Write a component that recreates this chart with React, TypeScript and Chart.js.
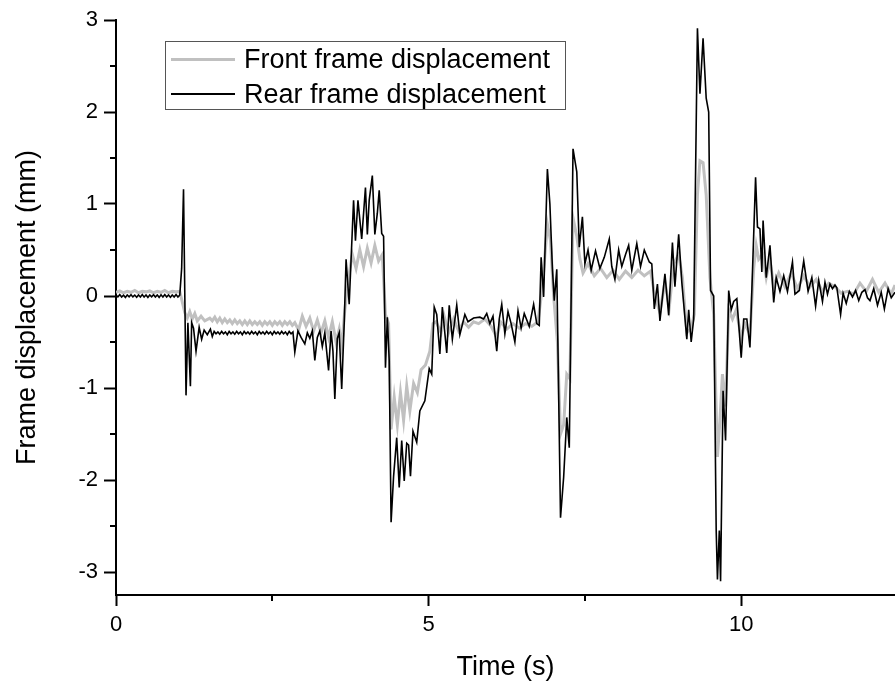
import React, { useEffect, useRef } from "react";
import { Chart, registerables } from "chart.js";

Chart.register(...registerables);

// Time (s) and values (mm)
const rearTime = [
  0.0, 0.03, 0.06, 0.09, 0.12, 0.15, 0.18, 0.21, 0.24, 0.27, 0.3, 0.33, 0.36, 0.39, 0.42, 0.45, 0.48, 0.51, 0.54, 0.57,
  0.6, 0.63, 0.66, 0.69, 0.72, 0.75, 0.78, 0.81, 0.84, 0.87, 0.9, 0.93, 0.96, 0.99, 1.02,
  1.05, 1.08, 1.12, 1.15, 1.19, 1.21, 1.24, 1.28, 1.33, 1.37, 1.41, 1.46,
  1.51, 1.54, 1.57, 1.6, 1.63, 1.66, 1.69, 1.72, 1.75, 1.78, 1.81, 1.84, 1.87, 1.9, 1.93, 1.96, 1.99, 2.02, 2.05, 2.08,
  2.11, 2.14, 2.17, 2.2, 2.23, 2.26, 2.29, 2.32, 2.35, 2.38, 2.41, 2.44, 2.47, 2.5, 2.53, 2.56, 2.59, 2.62, 2.65, 2.68,
  2.71, 2.74, 2.77, 2.8, 2.83,
  2.86, 2.91, 2.96, 3.02, 3.06, 3.1, 3.14, 3.18, 3.22, 3.26, 3.3, 3.34, 3.4, 3.44, 3.47, 3.5,
  3.54, 3.57, 3.61, 3.65, 3.68, 3.73, 3.8, 3.83, 3.87, 3.93, 3.99, 4.02, 4.05, 4.1, 4.14, 4.18, 4.21, 4.25, 4.28, 4.31,
  4.34, 4.37, 4.4, 4.44, 4.49, 4.53, 4.57, 4.61, 4.65, 4.68, 4.71, 4.75, 4.81, 4.86, 4.94, 5.01, 5.05, 5.09, 5.13, 5.18,
  5.22, 5.29, 5.33, 5.38, 5.45, 5.5, 5.58, 5.63, 5.72, 5.82, 5.88, 5.93, 5.98, 6.03, 6.09, 6.13, 6.17, 6.22, 6.27, 6.32,
  6.38, 6.43, 6.48, 6.53, 6.61, 6.68, 6.73, 6.77, 6.8, 6.84, 6.9, 6.94, 6.98, 7.01, 7.05, 7.11, 7.16, 7.21, 7.25, 7.31,
  7.37, 7.41, 7.46, 7.5, 7.55, 7.6, 7.67, 7.74, 7.81, 7.89, 7.93, 7.98, 8.04, 8.09, 8.15, 8.2, 8.25, 8.33, 8.39, 8.45,
  8.53, 8.57, 8.61, 8.66, 8.7, 8.78, 8.84, 8.9, 8.94, 9.0, 9.05, 9.13, 9.16, 9.2, 9.24, 9.3, 9.34, 9.39, 9.44, 9.48,
  9.51, 9.56, 9.6, 9.62, 9.65, 9.67, 9.71, 9.75, 9.8, 9.84, 9.88, 9.93, 10.0, 10.04, 10.09, 10.14, 10.2, 10.23, 10.26, 10.3,
  10.33, 10.35, 10.4, 10.46, 10.52, 10.56, 10.62, 10.68, 10.74, 10.82, 10.86, 10.93, 11.0, 11.07, 11.13, 11.19, 11.24, 11.3, 11.34, 11.38,
  11.42, 11.46, 11.5, 11.53, 11.59, 11.63, 11.68, 11.73, 11.78, 11.83, 11.88, 11.93, 11.98, 12.02, 12.06, 12.12, 12.18, 12.24, 12.29, 12.35,
  12.4, 12.46,
];
const rearValues = [
  0.01, -0.01, 0.015, -0.012, 0.008, -0.015, 0.012, -0.008, 0.015, -0.01, 0.01, -0.014, 0.012, -0.01, 0.016, -0.012, 0.01, -0.015, 0.012, -0.009,
  0.014, -0.012, 0.01, -0.015, 0.013, -0.01, 0.015, -0.012, 0.01, -0.014, 0.012, -0.01, 0.015, -0.012, 0.01,
  0.3, 1.16, -1.08, -0.29, -0.98, -0.29, -0.35, -0.6, -0.34, -0.47, -0.37, -0.42,
  -0.36, -0.44, -0.385, -0.41, -0.39, -0.415, -0.385, -0.41, -0.39, -0.42, -0.385, -0.41, -0.39, -0.415, -0.385, -0.41, -0.39, -0.42, -0.385, -0.41,
  -0.39, -0.415, -0.385, -0.41, -0.39, -0.42, -0.385, -0.41, -0.39, -0.415, -0.385, -0.41, -0.39, -0.42, -0.385, -0.41, -0.39, -0.415, -0.385, -0.41,
  -0.39, -0.42, -0.385, -0.41, -0.39,
  -0.61, -0.38, -0.45, -0.52, -0.4, -0.46, -0.38, -0.7, -0.45, -0.38, -0.55, -0.4, -0.81, -0.38, -0.6, -1.12,
  -0.46, -0.4, -1.01, -0.3, 0.4, -0.09, 1.04, 0.6, 1.04, 0.62, 1.18, 0.67, 1.04, 1.31, 0.67, 0.9, 1.15, 0.68, 0.65, -0.78,
  -0.23, -0.7, -2.46, -1.96, -1.54, -2.08, -1.57, -2.01, -1.6, -1.62, -1.96, -1.47, -1.59, -1.25, -1.14, -0.79, -0.85, -0.12, -0.2, -0.63,
  -0.12, -0.62, -0.1, -0.47, -0.1, -0.42, -0.2, -0.28, -0.24, -0.23, -0.25, -0.19, -0.3, -0.22, -0.6, -0.25, -0.09, -0.41, -0.17, -0.3,
  -0.5, -0.16, -0.35, -0.19, -0.33, -0.09, -0.3, -0.32, 0.42, -0.01, 1.38, 1.0, 0.3, -0.05, 0.29, -2.41, -1.97, -1.32, -1.65, 1.6,
  1.35, 0.53, 0.86, 0.35, 0.5, 0.28, 0.49, 0.3, 0.42, 0.62, 0.32, 0.18, 0.5, 0.32, 0.45, 0.55, 0.28, 0.57, 0.32, 0.5,
  0.37, 0.35, -0.14, 0.13, -0.27, 0.24, -0.21, 0.58, 0.1, 0.67, 0.15, -0.47, -0.15, -0.5, -0.25, 2.91, 2.2, 2.8, 2.15, 2.0,
  0.06, 0.0, -2.55, -3.08, -2.55, -3.1, -1.03, -1.57, 0.06, -0.15, -0.06, -0.03, -0.67, -0.25, -0.25, -0.56, 0.67, 1.29, 0.75, 0.73,
  0.26, 0.82, 0.2, 0.55, -0.07, 0.2, 0.05, 0.22, 0.05, 0.37, 0.02, 0.06, 0.38, 0.05, 0.2, -0.11, 0.17, -0.06, 0.15, 0.02,
  0.13, 0.08, 0.12, 0.09, -0.2, 0.03, -0.08, 0.05, -0.01, 0.06, -0.05, 0.04, 0.07, -0.02, -0.05, 0.08, -0.1, 0.04, -0.14, 0.08,
  -0.02, 0.04,
];

const frontTime = [
  0.0, 0.06, 0.12, 0.18, 0.24, 0.3, 0.36, 0.42, 0.48, 0.54, 0.6, 0.66, 0.72, 0.78, 0.84, 0.9, 0.96, 1.02,
  1.1, 1.14, 1.18, 1.22, 1.26, 1.3, 1.36, 1.42, 1.5,
  1.54, 1.58, 1.62, 1.66, 1.7, 1.74, 1.78, 1.82, 1.86, 1.9, 1.94, 1.98, 2.02, 2.06, 2.1, 2.14, 2.18, 2.22, 2.26, 2.3,
  2.34, 2.38, 2.42, 2.46, 2.5, 2.54, 2.58, 2.62, 2.66, 2.7, 2.74, 2.78, 2.82, 2.86,
  2.92, 2.98, 3.04, 3.1, 3.16, 3.22, 3.28, 3.34, 3.4, 3.46, 3.52, 3.57, 3.61, 3.66, 3.72, 3.78, 3.84,
  3.9, 3.96, 4.02, 4.08, 4.14, 4.2, 4.26, 4.31, 4.36, 4.4, 4.45, 4.5, 4.55, 4.6, 4.65, 4.7, 4.76, 4.82, 4.88, 4.95,
  5.02, 5.07, 5.12, 5.2, 5.25, 5.32, 5.4, 5.48, 5.56, 5.64, 5.72, 5.8, 5.9, 6.0, 6.09, 6.15, 6.25, 6.35, 6.45, 6.55,
  6.65, 6.75, 6.82, 6.9, 6.95, 7.0, 7.06, 7.11, 7.16, 7.21, 7.26, 7.31, 7.37, 7.42, 7.47, 7.55, 7.65, 7.75, 7.85, 7.95,
  8.05, 8.15, 8.25, 8.35, 8.45, 8.55, 8.62, 8.7, 8.78, 8.85, 8.92, 9.0, 9.06, 9.13, 9.2, 9.25, 9.3, 9.34, 9.39, 9.44,
  9.5, 9.56, 9.62, 9.66, 9.7, 9.75, 9.8, 9.86, 9.92, 10.0, 10.06, 10.14, 10.2, 10.24, 10.28, 10.34, 10.4, 10.46, 10.52, 10.6,
  10.7, 10.8, 10.9, 11.0, 11.1, 11.2, 11.3, 11.4, 11.5, 11.6, 11.7, 11.8, 11.9, 12.0, 12.1, 12.2, 12.3, 12.4, 12.46,
];
const frontValues = [
  0.04, 0.055, 0.035, 0.05, 0.04, 0.06, 0.035, 0.05, 0.045, 0.055, 0.035, 0.05, 0.04, 0.06, 0.035, 0.05, 0.045, 0.05,
  -0.18, -0.24, -0.17, -0.25, -0.19, -0.27, -0.22, -0.27, -0.24,
  -0.27, -0.23, -0.28, -0.24, -0.29, -0.25, -0.29, -0.26, -0.3, -0.26, -0.3, -0.27, -0.31, -0.27, -0.31, -0.27, -0.31, -0.28, -0.31, -0.28,
  -0.32, -0.28, -0.31, -0.28, -0.32, -0.28, -0.31, -0.28, -0.32, -0.28, -0.31, -0.28, -0.32, -0.29,
  -0.37, -0.22, -0.33, -0.24, -0.38, -0.26, -0.4, -0.27, -0.45, -0.28, -0.5, -0.36, -0.56, -0.15, 0.2, 0.45, 0.3,
  0.5, 0.32, 0.52, 0.36, 0.55, 0.38, 0.45, -0.2, -0.3, -1.45, -1.1, -1.4, -1.05, -1.35, -0.98, -1.25, -0.95, -1.05, -0.8, -0.75,
  -0.6, -0.3, -0.28, -0.4, -0.22, -0.4, -0.25, -0.38, -0.28, -0.34, -0.28, -0.3, -0.25, -0.33, -0.45, -0.28, -0.36, -0.3, -0.35, -0.3,
  -0.33, -0.28, 0.1, 0.78, 0.6, 0.0, -0.5, -1.5, -1.4, -0.85, -0.9, 0.85, 0.65, 0.4, 0.25, 0.35, 0.22, 0.3, 0.2, 0.28,
  0.18, 0.27, 0.2, 0.28, 0.22, 0.27, 0.0, -0.18, 0.15, -0.12, 0.35, 0.45, 0.2, -0.4, -0.35, -0.2, 1.1, 1.47, 1.45, 1.1,
  0.2, -0.2, -1.75, -1.35, -0.85, -1.2, -0.15, -0.25, -0.15, -0.45, -0.3, -0.42, 0.3, 0.55, 0.4, 0.45, 0.2, 0.4, 0.1, 0.25,
  0.1, 0.25, 0.08, 0.22, 0.1, 0.18, 0.05, 0.14, 0.1, 0.03, 0.05, 0.02, 0.14, 0.05, 0.18, 0.04, 0.14, 0.02, 0.12,
];

const seriesNames = ["Front frame displacement", "Rear frame displacement"];
const xMajorTicks = [0, 5, 10];
const xMinorTicks = [2.5, 7.5];
const yMajorTicks = [-3, -2, -1, 0, 1, 2, 3];
const yMinorTicks = [-2.5, -1.5, -0.5, 0.5, 1.5, 2.5];
const xRange = [0, 12.46];
const yRange = [-3.25, 3];

const FRONT_COLOR = "rgb(192,192,192)";
const REAR_COLOR = "#000000";
const FONT = "'Liberation Sans', Arial, Helvetica, sans-serif";

const minorTicksPlugin = {
  id: "minorTicks",
  afterDraw(chart: any) {
    const { ctx, chartArea } = chart;
    const xs = chart.scales.x;
    const ys = chart.scales.y;
    ctx.save();
    ctx.strokeStyle = "#000";
    ctx.lineWidth = 2;
    ctx.beginPath();
    xMinorTicks.forEach((v) => {
      const px = Math.round(xs.getPixelForValue(v));
      ctx.moveTo(px, chartArea.bottom);
      ctx.lineTo(px, chartArea.bottom + 6);
    });
    yMinorTicks.forEach((v) => {
      const py = Math.round(ys.getPixelForValue(v));
      ctx.moveTo(chartArea.left - 6, py);
      ctx.lineTo(chartArea.left, py);
    });
    ctx.stroke();
    ctx.restore();
  },
};

export default function App() {
  const canvasRef = useRef<HTMLCanvasElement | null>(null);

  useEffect(() => {
    document.body.style.margin = "0";
    const canvas = canvasRef.current;
    if (!canvas) return;
    const rear = rearTime.map((t, i) => ({ x: t, y: rearValues[i] }));
    const front = frontTime.map((t, i) => ({ x: t, y: frontValues[i] }));
    const chart = new Chart(canvas, {
      type: "line",
      data: {
        datasets: [
          {
            label: seriesNames[1],
            data: rear,
            borderColor: REAR_COLOR,
            borderWidth: 1.6,
            pointRadius: 0,
            tension: 0,
            fill: false,
          },
          {
            label: seriesNames[0],
            data: front,
            borderColor: FRONT_COLOR,
            borderWidth: 3,
            pointRadius: 0,
            tension: 0,
            fill: false,
          },
        ],
      },
      options: {
        animation: false,
        responsive: false,
        devicePixelRatio: 1,
        layout: { padding: { top: 20, right: 0, left: 0, bottom: 0 } },
        plugins: { legend: { display: false }, tooltip: { enabled: false } },
        scales: {
          x: {
            type: "linear",
            min: xRange[0],
            max: xRange[1],
            afterBuildTicks: (scale: any) => {
              scale.ticks = xMajorTicks.map((v) => ({ value: v }));
            },
            afterFit: (scale: any) => {
              scale.height = 89;
            },
            ticks: {
              color: "#000",
              font: { family: FONT, size: 22 },
              padding: 6,
              maxRotation: 0,
              autoSkip: false,
              includeBounds: false,
            },
            grid: {
              display: true,
              drawOnChartArea: false,
              drawTicks: true,
              tickLength: 11,
              tickWidth: 2,
              tickColor: "#000",
            },
            border: { display: true, color: "#000", width: 2 },
            title: {
              display: true,
              text: "Time (s)",
              color: "#000",
              font: { family: FONT, size: 27 },
              padding: { top: 0, bottom: 0 },
            },
          },
          y: {
            type: "linear",
            min: yRange[0],
            max: yRange[1],
            afterBuildTicks: (scale: any) => {
              scale.ticks = yMajorTicks.map((v) => ({ value: v }));
            },
            afterFit: (scale: any) => {
              scale.width = 116;
            },
            ticks: {
              color: "#000",
              font: { family: FONT, size: 22 },
              padding: 6,
              autoSkip: false,
              includeBounds: false,
            },
            grid: {
              display: true,
              drawOnChartArea: false,
              drawTicks: true,
              tickLength: 12,
              tickWidth: 2,
              tickColor: "#000",
            },
            border: { display: true, color: "#000", width: 2 },
            title: {
              display: true,
              text: "Frame displacement (mm)",
              color: "#000",
              font: { family: FONT, size: 27 },
              padding: { top: 11, bottom: 0 },
            },
          },
        },
      },
      plugins: [minorTicksPlugin],
    });
    return () => chart.destroy();
  }, []);

  const rowStyle: React.CSSProperties = {
    position: "absolute",
    left: 0,
    height: 34,
    display: "flex",
    alignItems: "center",
    whiteSpace: "nowrap",
  };

  return (
    <div style={{ position: "relative", width: 895, height: 684, overflow: "hidden", background: "#fff" }}>
      <canvas ref={canvasRef} width={895} height={684} style={{ display: "block" }} />
      <div
        style={{
          position: "absolute",
          left: 165,
          top: 41,
          width: 399,
          height: 67,
          border: "1px solid #555",
          background: "#fff",
          fontFamily: FONT,
          fontSize: 27,
          color: "#000",
        }}
      >
        {[
          { name: seriesNames[0], color: FRONT_COLOR, w: 3 },
          { name: seriesNames[1], color: REAR_COLOR, w: 1.6 },
        ].map((s, i) => (
          <div key={s.name} style={{ ...rowStyle, top: i * 35 }}>
            <div style={{ marginLeft: 5, width: 64, height: s.w, background: s.color }} />
            <span style={{ marginLeft: 9, lineHeight: "34px" }}>{s.name}</span>
          </div>
        ))}
      </div>
    </div>
  );
}
